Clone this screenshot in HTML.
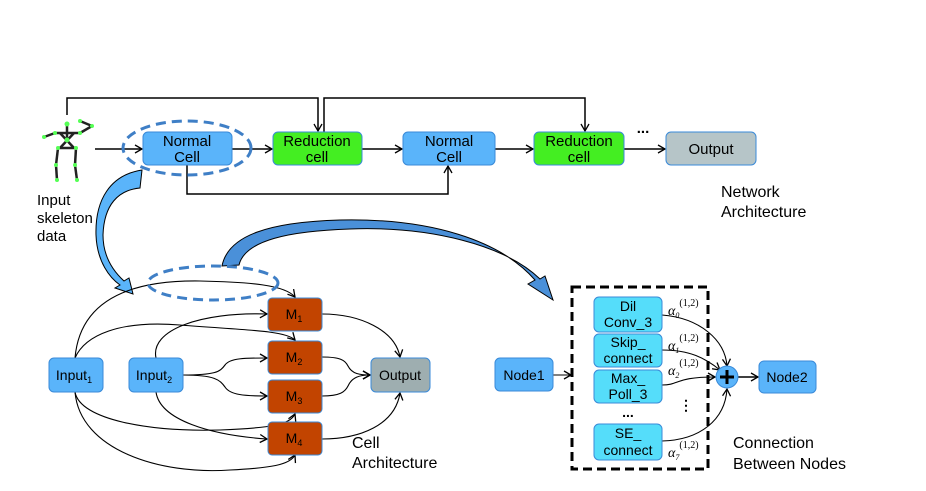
<!DOCTYPE html>
<html><head><meta charset="utf-8"><style>
body{margin:0;background:#fff;}
svg{display:block;font-family:"Liberation Sans",sans-serif;}
</style></head><body>
<svg width="926" height="491" viewBox="0 0 926 491" xmlns="http://www.w3.org/2000/svg">
<defs>
<marker id="a" markerWidth="10" markerHeight="10" refX="8" refY="5" orient="auto" markerUnits="userSpaceOnUse">
<path d="M1,1 L8,5 L1,9" fill="none" stroke="#000" stroke-width="1.3"/></marker>
</defs>
<!-- skeleton -->
<g stroke="#222" stroke-width="2.5" fill="none">
<line x1="67" y1="125" x2="67" y2="140"/>
<line x1="55" y1="133" x2="80" y2="133"/>
<line x1="80" y1="133" x2="92" y2="126"/><line x1="80" y1="121" x2="92" y2="126"/>
<line x1="55" y1="133" x2="44" y2="137"/>
<line x1="60" y1="133" x2="74" y2="148"/><line x1="74" y1="133" x2="60" y2="148"/>
<line x1="58" y1="148" x2="76" y2="148"/>
<line x1="58" y1="148" x2="56" y2="165"/><line x1="56" y1="165" x2="57" y2="180"/>
<line x1="76" y1="148" x2="75" y2="165"/><line x1="75" y1="165" x2="77" y2="180"/>
</g>
<g fill="#5f5"><circle cx="67" cy="124" r="2.5"/><circle cx="67" cy="140" r="2.5"/><circle cx="55" cy="133" r="2"/><circle cx="80" cy="133" r="2"/><circle cx="92" cy="126" r="2"/><circle cx="80" cy="121" r="2"/><circle cx="44" cy="137" r="2"/><circle cx="58" cy="148" r="2"/><circle cx="76" cy="148" r="2"/><circle cx="56" cy="165" r="2"/><circle cx="75" cy="165" r="2"/><circle cx="57" cy="180" r="2"/><circle cx="77" cy="180" r="2"/></g>
<g font-size="15"><text x="37" y="205">Input</text><text x="37" y="223">skeleton</text><text x="37" y="241">data</text></g>

<!-- top connectors -->
<g stroke="#000" stroke-width="1.5" fill="none" marker-end="url(#a)">
<line x1="95" y1="149" x2="142" y2="149"/>
<line x1="232" y1="149" x2="272" y2="149"/>
<line x1="362" y1="149" x2="402" y2="149"/>
<line x1="495" y1="149" x2="533" y2="149"/>
<line x1="624" y1="149" x2="665" y2="149"/>
<polyline points="67,115 67,98 318,98 318,131"/>
<polyline points="324,132 324,98 585,98 585,131" marker-end="url(#a)"/>
<polyline points="187,165 187,194 448,194 448,166"/>
</g>
<g font-size="15" text-anchor="middle">
<rect x="143" y="132" width="89" height="33" rx="5" fill="#5ab4fa" stroke="#3a8ad8"/>
<text x="187" y="146">Normal</text><text x="187" y="162">Cell</text>
<rect x="273" y="132" width="89" height="33" rx="5" fill="#44ee22" stroke="#3a8ad8"/>
<text x="317" y="146">Reduction</text><text x="317" y="162">cell</text>
<rect x="403" y="132" width="92" height="33" rx="5" fill="#5ab4fa" stroke="#3a8ad8"/>
<text x="449" y="146">Normal</text><text x="449" y="162">Cell</text>
<rect x="534" y="132" width="90" height="33" rx="5" fill="#44ee22" stroke="#3a8ad8"/>
<text x="579" y="146">Reduction</text><text x="579" y="162">cell</text>
<rect x="666" y="132" width="90" height="33" rx="5" fill="#b6c5c8" stroke="#3a8ad8"/>
<text x="711" y="154">Output</text>
<text x="643" y="133" font-weight="bold">...</text>
</g>
<ellipse cx="187" cy="148" rx="64" ry="27" fill="none" stroke="#3f7fc6" stroke-width="3" stroke-dasharray="10,6"/>
<g font-size="16"><text x="721" y="197">Network</text><text x="721" y="217">Architecture</text></g>

<!-- big blue arrows -->
<path d="M142,170 C110,175 95,200 96,235 C97,262 110,278 120,285 L115,288 L133,294 L129,278 L124,281 C112,270 103,255 103,235 C104,205 118,190 140,188 Z" fill="#5ab4fa" stroke="#000" stroke-width="1"/>
<path d="M222,266 C228,235 270,222 340,220 C430,218 500,240 535,280 L528,284 L553,300 L545,276 L540,279 C505,245 430,226 350,229 C290,231 245,240 239,265 Z" fill="#4a90d9" stroke="#000" stroke-width="1"/>

<!-- cell architecture connectors -->
<g stroke="#000" stroke-width="1.1" fill="none" marker-end="url(#a)">
<path d="M75,358 C80,300 130,280 200,281 C250,282 285,285 295,297"/>
<path d="M75,358 C85,335 120,320 180,325 C240,330 285,330 295,340"/>
<path d="M156,358 C150,330 200,312 267,314"/>
<path d="M183,375 C215,375 220,372 225,365 C230,358 245,358 267,358"/>
<path d="M183,375 C215,375 220,380 225,387 C230,395 245,396 267,396"/>
<path d="M156,392 C160,420 210,435 267,439"/>
<path d="M75,392 C80,420 150,432 220,430 C270,428 290,425 295,414"/>
<path d="M75,392 C80,450 160,475 230,470 C270,468 290,465 295,455"/>
<path d="M322,314 C360,314 395,330 400,357"/>
<path d="M322,357 C340,357 345,360 348,366 C352,374 360,375 370,375"/>
<path d="M322,396 C340,396 345,392 348,386 C352,377 360,375 370,375"/>
<path d="M322,439 C360,439 395,425 400,393"/>
</g>
<ellipse cx="213" cy="283" rx="65" ry="17" fill="none" stroke="#3f7fc6" stroke-width="3" stroke-dasharray="10,6"/>
<g font-size="14" text-anchor="middle">
<rect x="49" y="358" width="54" height="34" rx="5" fill="#5ab4fa" stroke="#3a8ad8"/>
<text x="74" y="380">Input<tspan font-size="9" dy="3">1</tspan></text>
<rect x="129" y="358" width="54" height="34" rx="5" fill="#5ab4fa" stroke="#3a8ad8"/>
<text x="154" y="380">Input<tspan font-size="9" dy="3">2</tspan></text>
<rect x="268" y="298" width="54" height="33" rx="4" fill="#c24400" stroke="#3a8ad8"/>
<text x="294" y="319">M<tspan font-size="9" dy="3">1</tspan></text>
<rect x="268" y="341" width="54" height="33" rx="4" fill="#c24400" stroke="#3a8ad8"/>
<text x="294" y="362">M<tspan font-size="9" dy="3">2</tspan></text>
<rect x="268" y="380" width="54" height="33" rx="4" fill="#c24400" stroke="#3a8ad8"/>
<text x="294" y="401">M<tspan font-size="9" dy="3">3</tspan></text>
<rect x="268" y="422" width="54" height="33" rx="4" fill="#c24400" stroke="#3a8ad8"/>
<text x="294" y="443">M<tspan font-size="9" dy="3">4</tspan></text>
<rect x="371" y="358" width="59" height="34" rx="5" fill="#9eaeb0" stroke="#3a8ad8"/>
<text x="400" y="380">Output</text>
</g>
<g font-size="16"><text x="352" y="448">Cell</text><text x="352" y="468">Architecture</text></g>

<!-- connection between nodes -->
<rect x="572" y="287" width="136" height="182" fill="none" stroke="#000" stroke-width="3" stroke-dasharray="9,5"/>
<g stroke="#000" stroke-width="1.1" fill="none" marker-end="url(#a)">
<line x1="553" y1="375" x2="571" y2="375"/>
<path d="M662,315 C700,318 725,340 727,366"/>
<path d="M662,350 C690,350 705,358 720,370"/>
<path d="M662,385 C680,385 675,377 715,377"/>
<path d="M662,441 C700,440 725,420 727,389"/>
<line x1="738" y1="377" x2="758" y2="377" stroke-width="1.5"/>
</g>
<g font-size="14" text-anchor="middle">
<rect x="495" y="358" width="58" height="33" rx="5" fill="#5ab4fa" stroke="#3a8ad8"/>
<text x="524" y="380">Node1</text>
<rect x="594" y="297" width="68" height="35" rx="5" fill="#55ddfa" stroke="#3a8ad8"/>
<text x="628" y="311">Dil</text><text x="628" y="327">Conv_3</text>
<rect x="594" y="334" width="68" height="33" rx="5" fill="#55ddfa" stroke="#3a8ad8"/>
<text x="628" y="347">Skip_</text><text x="628" y="363">connect</text>
<rect x="594" y="370" width="68" height="33" rx="5" fill="#55ddfa" stroke="#3a8ad8"/>
<text x="628" y="383">Max_</text><text x="628" y="399">Poll_3</text>
<rect x="594" y="424" width="68" height="36" rx="5" fill="#55ddfa" stroke="#3a8ad8"/>
<text x="628" y="438">SE_</text><text x="628" y="455">connect</text>
<text x="628" y="417" font-weight="bold">...</text>
<text x="686" y="410" font-weight="bold">⋮</text>
<rect x="759" y="361" width="57" height="32" rx="5" fill="#5ab4fa" stroke="#3a8ad8"/>
<text x="787" y="382">Node2</text>
</g>
<circle cx="727" cy="377" r="11" fill="#5ab4fa" stroke="#3a8ad8"/>
<path d="M720,377 H734 M727,370 V384" stroke="#000" stroke-width="3"/>
<g font-family="Liberation Serif,serif" font-style="italic" font-size="14">
<text x="668" y="315">α<tspan font-size="8" dy="3">0</tspan><tspan font-size="10" font-style="normal" dy="-12">(1,2)</tspan></text>
<text x="668" y="350">α<tspan font-size="8" dy="3">1</tspan><tspan font-size="10" font-style="normal" dy="-12">(1,2)</tspan></text>
<text x="668" y="375">α<tspan font-size="8" dy="3">2</tspan><tspan font-size="10" font-style="normal" dy="-12">(1,2)</tspan></text>
<text x="668" y="457">α<tspan font-size="8" dy="3">7</tspan><tspan font-size="10" font-style="normal" dy="-12">(1,2)</tspan></text>
</g>
<g font-size="16"><text x="733" y="448">Connection</text><text x="733" y="469">Between Nodes</text></g>
</svg>
</body></html>
